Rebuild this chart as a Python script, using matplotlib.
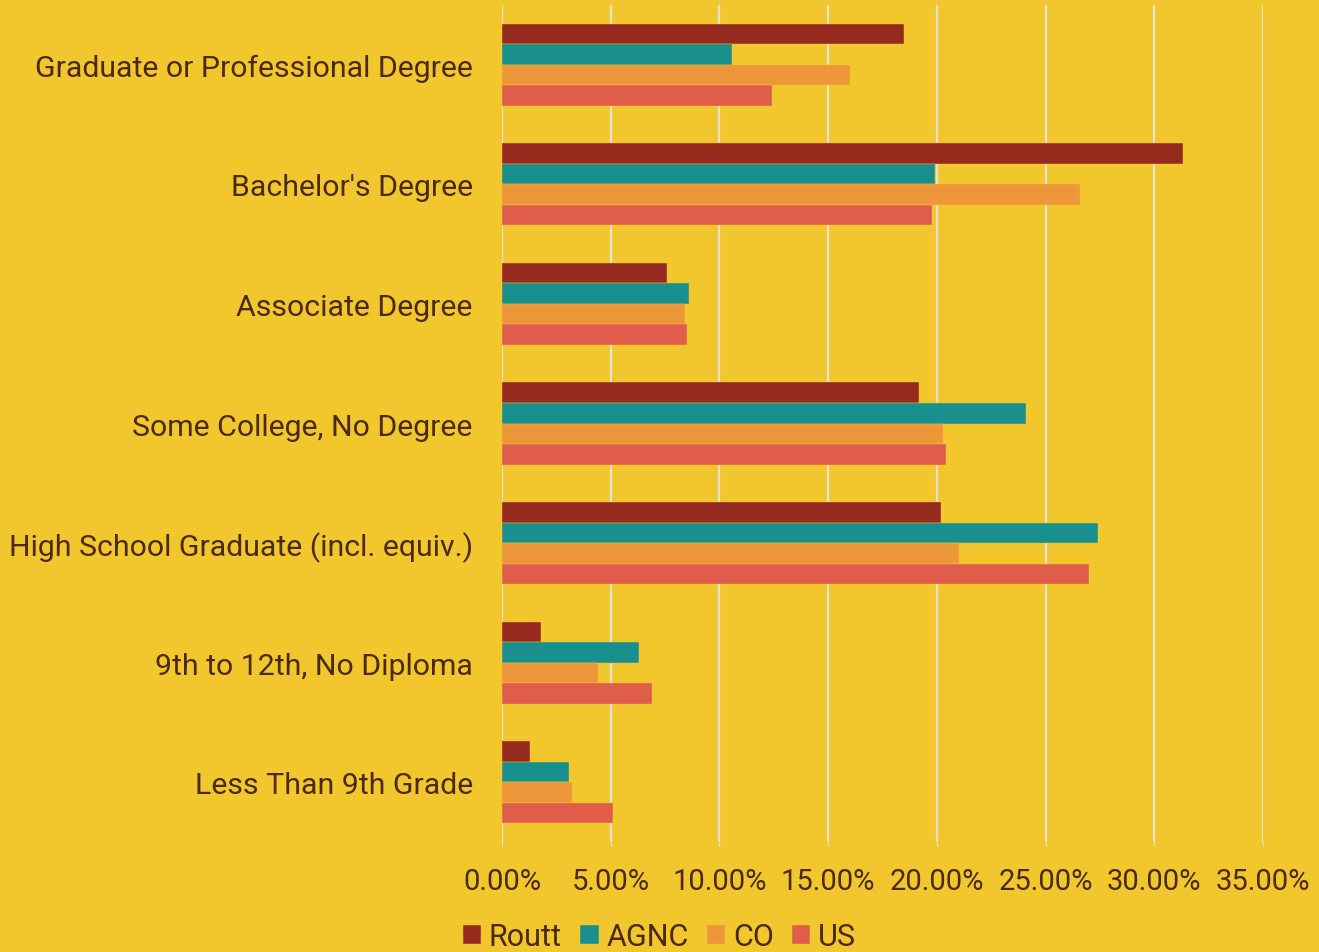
import matplotlib
matplotlib.use("Agg")
import matplotlib.pyplot as plt
import numpy as np

categories = ["Graduate or Professional Degree", "Bachelor's Degree", "Associate Degree",
              "Some College, No Degree", "High School Graduate (incl. equiv.)",
              "9th to 12th, No Diploma", "Less Than 9th Grade"]
series_names = ["Routt", "AGNC", "CO", "US"]
routt = [18.5, 31.3, 7.6, 19.2, 20.2, 1.8, 1.3]
agnc = [10.6, 19.9, 8.6, 24.1, 27.4, 6.3, 3.1]
co = [16.0, 26.6, 8.4, 20.3, 21.0, 4.4, 3.2]
us = [12.4, 19.8, 8.5, 20.4, 27.0, 6.9, 5.1]
xticks = [0, 5, 10, 15, 20, 25, 30, 35]

bg = "#F2C72E"
txt = "#4A2A12"
colors = ["#972A1F", "#1A908E", "#EE963A", "#E05D4B"]

plt.rcParams['font.family'] = ['Roboto', 'DejaVu Sans']

fig = plt.figure(figsize=(13.19, 9.53), dpi=100, facecolor=bg)
ax = fig.add_axes([0.3806, 0.1154, 0.5769, 0.8783], facecolor=bg)

n = len(categories)
h = 0.1715
ypos = np.arange(n)
for i, (name, vals) in enumerate(zip(series_names, [routt, agnc, co, us])):
    offs = (i - 1.5) * h
    ax.barh(ypos + offs, vals, height=h, color=colors[i], label=name,
            edgecolor=bg, linewidth=0.3, zorder=3)

ax.set_ylim(n - 0.5, -0.5)
ax.set_xlim(0, 35)
ax.set_xticks(xticks)
ax.set_xticklabels([f"{v:.2f}%" for v in xticks])
ax.set_yticks(ypos)
ax.set_yticklabels(categories)
ax.grid(axis='x', color="#E3E1D8", linewidth=1.5, zorder=0)
ax.axvline(0, color="#D9D6CC", linewidth=1.5, zorder=1)
for s in ax.spines.values():
    s.set_visible(False)
ax.tick_params(axis='y', length=0, pad=21, labelsize=21.8, labelcolor=txt)
ax.tick_params(axis='x', length=3, color="#E3E1D8", pad=15, labelsize=21, labelcolor=txt)

leg = fig.legend(loc='lower center', bbox_to_anchor=(0.5, -0.028), ncol=4, frameon=False,
                 fontsize=22, labelcolor=txt, handlelength=0.6, handleheight=0.6,
                 handletextpad=0.25, columnspacing=0.6)

fig.savefig("out.png", dpi=100, facecolor=bg)
